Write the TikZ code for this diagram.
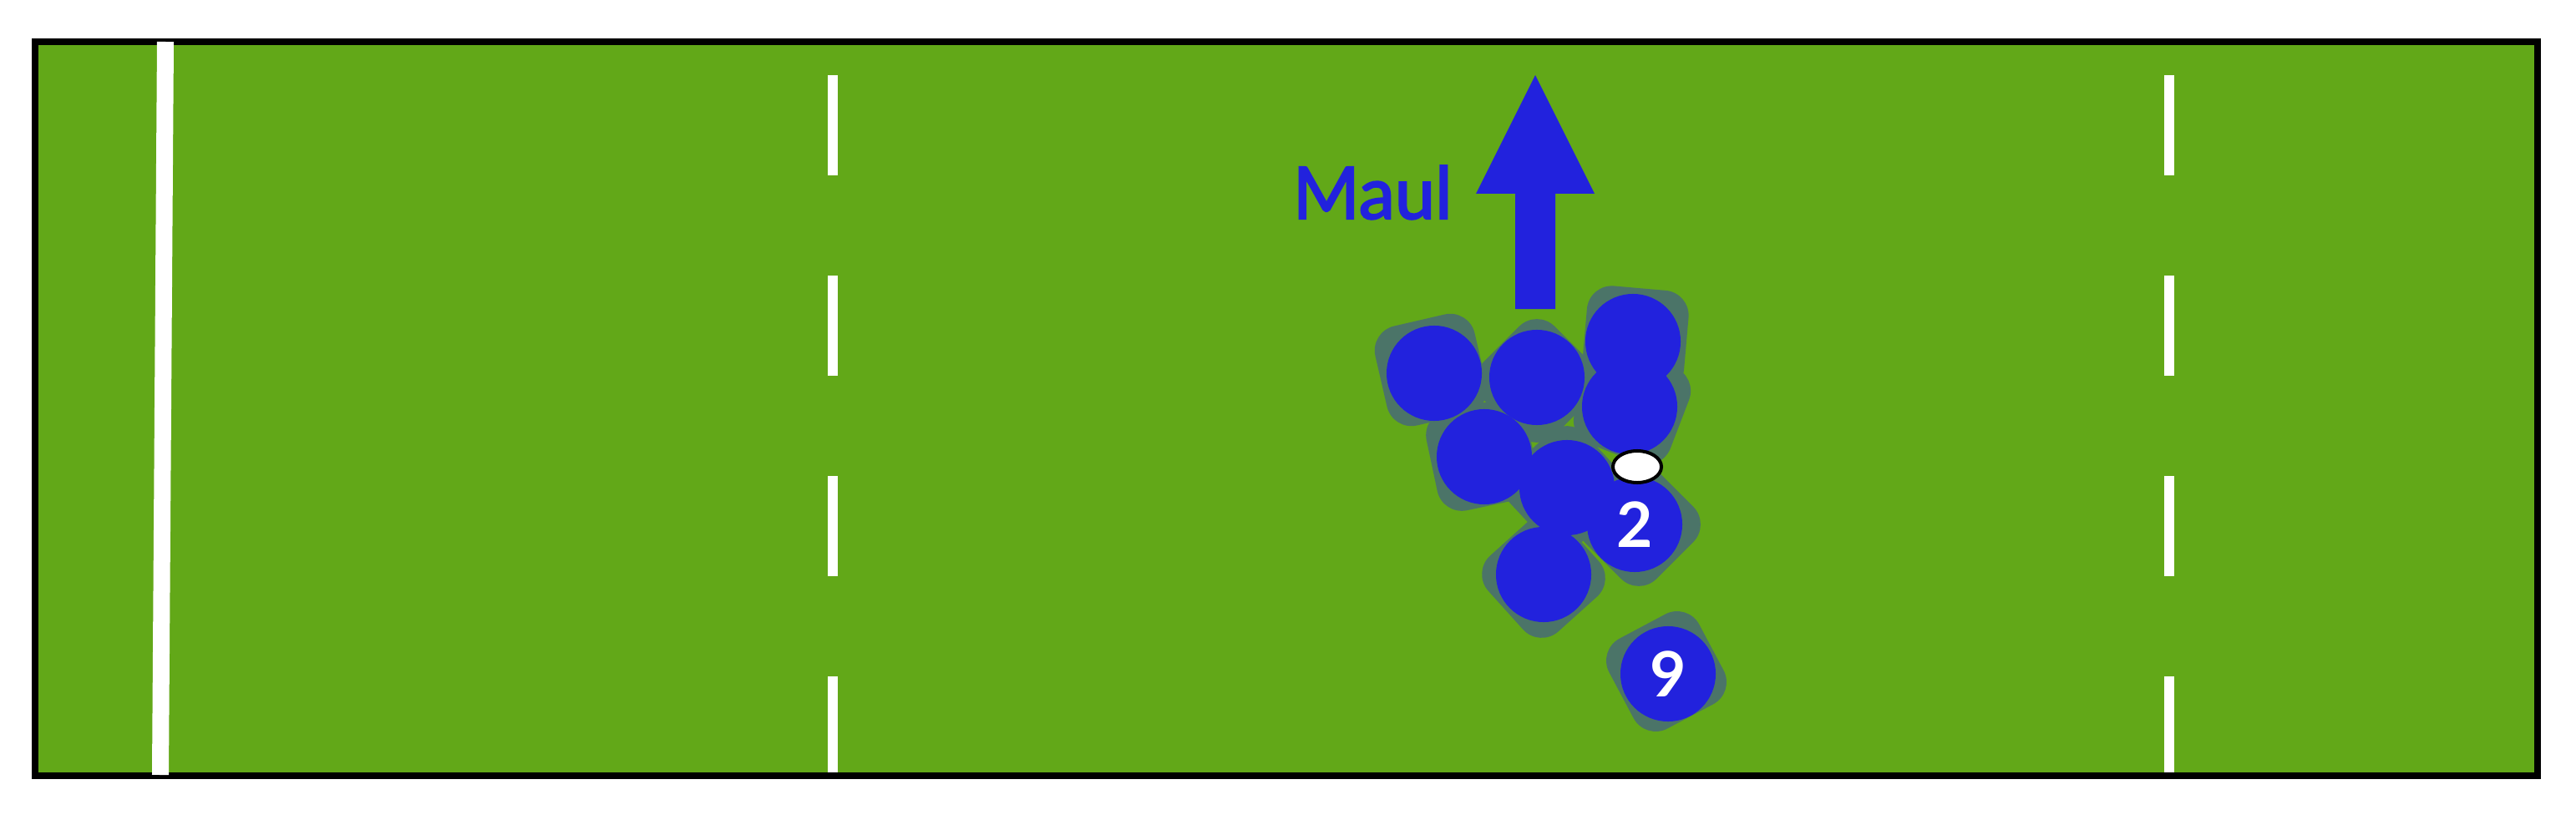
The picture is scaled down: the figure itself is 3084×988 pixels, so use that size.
\documentclass[tikz,border=0pt]{standalone}
\usepackage{fontspec}
\setmainfont{Lato}
\newfontfamily\maulfont{Lato}[FakeBold=2.5]
\usetikzlibrary{shapes.geometric}
\definecolor{fieldgreen}{RGB}{98,168,24}
\definecolor{teamblue}{RGB}{34,34,221}
\definecolor{shadowc}{RGB}{75,116,104}
\begin{document}
\begin{tikzpicture}[x=0.01cm,y=-0.01cm,
  player/.style={circle, fill=teamblue, inner sep=0pt, minimum size=1.14cm, text=white,
    font=\bfseries\fontsize{21.3pt}{21.3pt}\selectfont},
  blob/.style={rectangle, fill=shadowc, rounded corners=0.3cm, inner sep=0pt,
    minimum width=1.22cm, minimum height=1.22cm},
  ballstyle/.style={ellipse, fill=white, draw=black, line width=0.04cm, inner sep=0pt,
    minimum width=0.58cm, minimum height=0.38cm},
  fieldline/.style={white, line width=0.12cm},
  maultext/.style={text=teamblue, inner sep=0pt, font=\maulfont\fontsize{24.6pt}{24.6pt}\selectfont}]
\useasboundingbox (0,0) rectangle (3084,988);
% field
\fill[fieldgreen] (42,50) rectangle (3038,929);
% dashed lines
\draw[fieldline, dash pattern=on 1.2cm off 1.2cm] (996.5,90) -- (996.5,929);
\draw[fieldline, dash pattern=on 1.2cm off 1.2cm] (2597,90) -- (2597,929);
% frame
\draw[black, line width=0.08cm] (42,50) rectangle (3038,929);
% solid line
\draw[white, line width=0.2cm] (198,50) -- (192,928);
% arrow
\fill[teamblue] (1838,90) -- (1909,232) -- (1862,232) -- (1862,370) -- (1814,370) -- (1814,232) -- (1767,232) -- cycle;
\node[maultext, anchor=base west] (maul) at (1547,262) {Maul};
% shadows
\node[blob, rotate=13] (s1) at (1713,443) {};
\node[blob, rotate=45] (s2) at (1840,456) {};
\node[blob, rotate=-5] (s3) at (1958,406) {};
\node[blob, rotate=-21] (s4) at (1954,486) {};
\node[blob, rotate=12] (s5) at (1774,545) {};
\node[blob, rotate=43] (s6) at (1874,584) {};
\node[blob, rotate=45] (s7) at (1962,628) {};
\node[blob, rotate=42] (s8) at (1848,690) {};
\node[blob, rotate=28] (s9) at (1995,804) {};
% players
\node[player] (p1) at (1717,447) {};
\node[player] (p2) at (1840,452) {};
\node[player] (p3) at (1955,409) {};
\node[player] (p4) at (1951,487) {};
\node[player] (p5) at (1777,547) {};
\node[player] (p6) at (1876,584) {};
\node[player] (p7) at (1957,628) {2};
\node[player] (p8) at (1848,688) {};
\node[player] (p9) at (1997,807) {9};
% ball
\node[ballstyle] (ball) at (1960,559) {};
\end{tikzpicture}
\end{document}
